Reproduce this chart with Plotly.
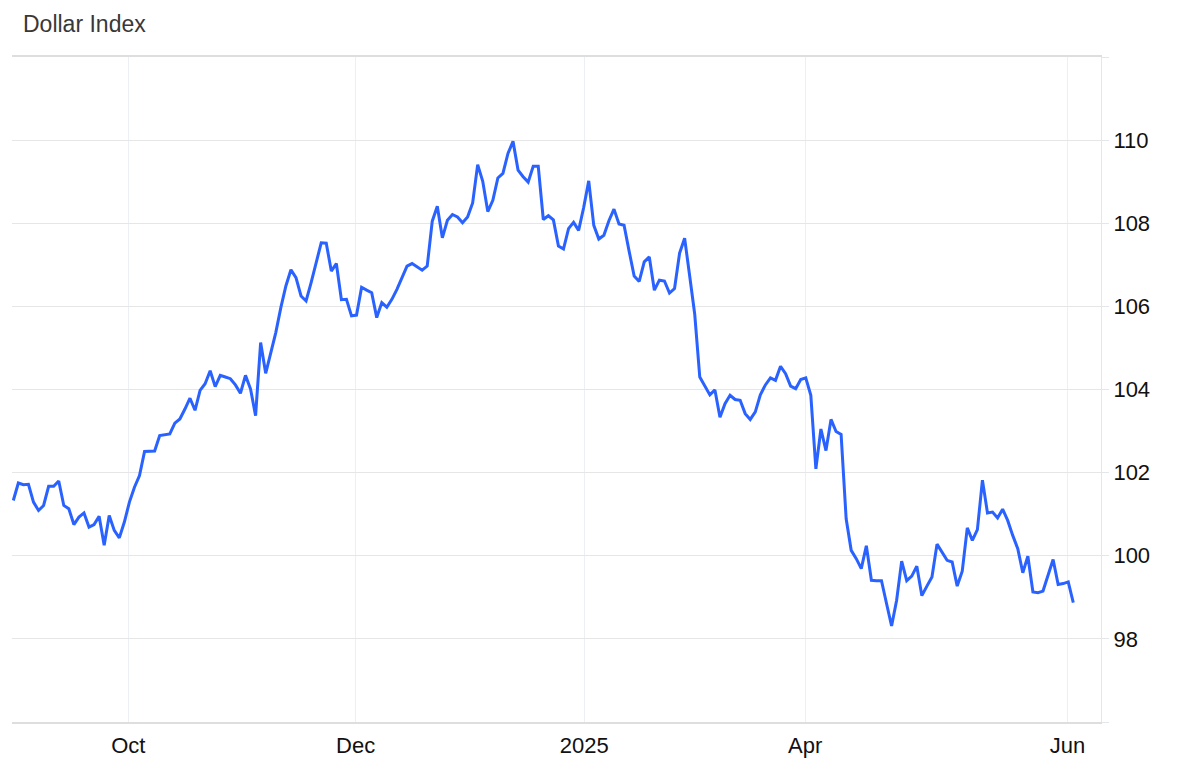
import plotly.graph_objects as go

# Dollar Index readings, one per sample (equally spaced samples)
values = [
    101.33, 101.75, 101.71, 101.72, 101.29, 101.09, 101.21, 101.67, 101.67, 101.80,
    101.21, 101.13, 100.75, 100.93, 101.03, 100.69, 100.75, 100.95, 100.25, 100.97,
    100.61, 100.43, 100.81, 101.29, 101.65, 101.93, 102.51, 102.51, 102.52, 102.89,
    102.91, 102.93, 103.19, 103.29, 103.53, 103.79, 103.50, 103.98, 104.14, 104.45,
    104.07, 104.34, 104.30, 104.26, 104.11, 103.91, 104.34, 104.01, 103.37, 105.13,
    104.39, 104.89, 105.37, 105.97, 106.49, 106.88, 106.69, 106.25, 106.13, 106.57,
    107.05, 107.53, 107.52, 106.85, 107.03, 106.16, 106.17, 105.77, 105.79, 106.46,
    106.39, 106.33, 105.73, 106.09, 105.98, 106.17, 106.41, 106.71, 106.97, 107.03,
    106.95, 106.87, 106.97, 108.05, 108.41, 107.65, 108.07, 108.21, 108.15, 108.01,
    108.15, 108.49, 109.41, 109.01, 108.28, 108.55, 109.09, 109.20, 109.68, 109.97,
    109.28, 109.12, 108.99, 109.37, 109.37, 108.09, 108.18, 108.08, 107.45, 107.38,
    107.87, 108.02, 107.83, 108.38, 109.02, 107.95, 107.62, 107.71, 108.06, 108.34,
    107.98, 107.95, 107.33, 106.73, 106.60, 107.07, 107.19, 106.39, 106.63, 106.61,
    106.32, 106.43, 107.28, 107.64, 106.73, 105.81, 104.30, 104.10, 103.87, 103.99,
    103.33, 103.66, 103.86, 103.76, 103.74, 103.42, 103.28, 103.46, 103.87, 104.11,
    104.28, 104.22, 104.56, 104.38, 104.08, 104.02, 104.24, 104.28, 103.86, 102.09,
    103.05, 102.53, 103.28, 102.99, 102.92, 100.89, 100.13, 99.93, 99.69, 100.24,
    99.41, 99.40, 99.40, 98.85, 98.31, 98.93, 99.87, 99.40, 99.51, 99.75,
    99.04, 99.27, 99.49, 100.28, 100.07, 99.89, 99.85, 99.27, 99.63, 100.67,
    100.37, 100.63, 101.82, 101.03, 101.05, 100.91, 101.12, 100.85, 100.49, 100.17,
    99.59, 99.99, 99.13, 99.11, 99.15, 99.53, 99.91, 99.31, 99.33, 99.37,
    98.87,
]
sample_index = list(range(len(values)))

# x tick labels and the sample position where each month boundary falls
x_tick_labels = ["Oct", "Dec", "2025", "Apr", "Jun"]
x_tick_pos = [22.78, 67.83, 113.11, 156.89, 208.87]

# y ticks
y_tick_vals = [96, 98, 100, 102, 104, 106, 108, 110, 112]
y_tick_text = ["", "98", "100", "102", "104", "106", "108", "110", ""]

fig = go.Figure()
fig.add_trace(go.Scatter(
    x=sample_index, y=values, mode="lines",
    line=dict(color="#2962ff", width=3),
    hoverinfo="skip", showlegend=False,
))

# the page body adds an 8px offset, so the figure is sized to fit the window
fig.update_layout(
    width=1192, height=774,
    margin=dict(l=4, r=99, t=49, b=60),
    paper_bgcolor="white", plot_bgcolor="white",
    font=dict(family="Liberation Sans, Arial, sans-serif", color="#111111", size=22),
    title=dict(text="Dollar Index", x=0, xref="paper", xanchor="left",
               y=0.9797, yref="container", yanchor="middle",
               pad=dict(l=11),
               font=dict(size=23, color="#383838")),
)

fig.update_xaxes(
    range=[-0.26, 215.49],
    tickmode="array", tickvals=x_tick_pos, ticktext=x_tick_labels,
    showgrid=True, gridcolor="#ecf0f4", gridwidth=1,
    zeroline=False,
    showline=True, linecolor="#dedede", linewidth=1.5, mirror=True,
    ticks="", ticklabelstandoff=3,
    tickfont=dict(size=22, color="#111111"),
)

fig.update_yaxes(
    range=[96, 112], side="right",
    tickmode="array", tickvals=y_tick_vals, ticktext=y_tick_text,
    showgrid=True, gridcolor="#e6e6e6", gridwidth=1,
    zeroline=False,
    showline=True, linecolor="#e3e6ea", linewidth=1,
    ticks="outside", ticklen=7, tickcolor="#e3e6ea",
    tickfont=dict(size=22, color="#111111"),
)

fig.write_html("out.html")
